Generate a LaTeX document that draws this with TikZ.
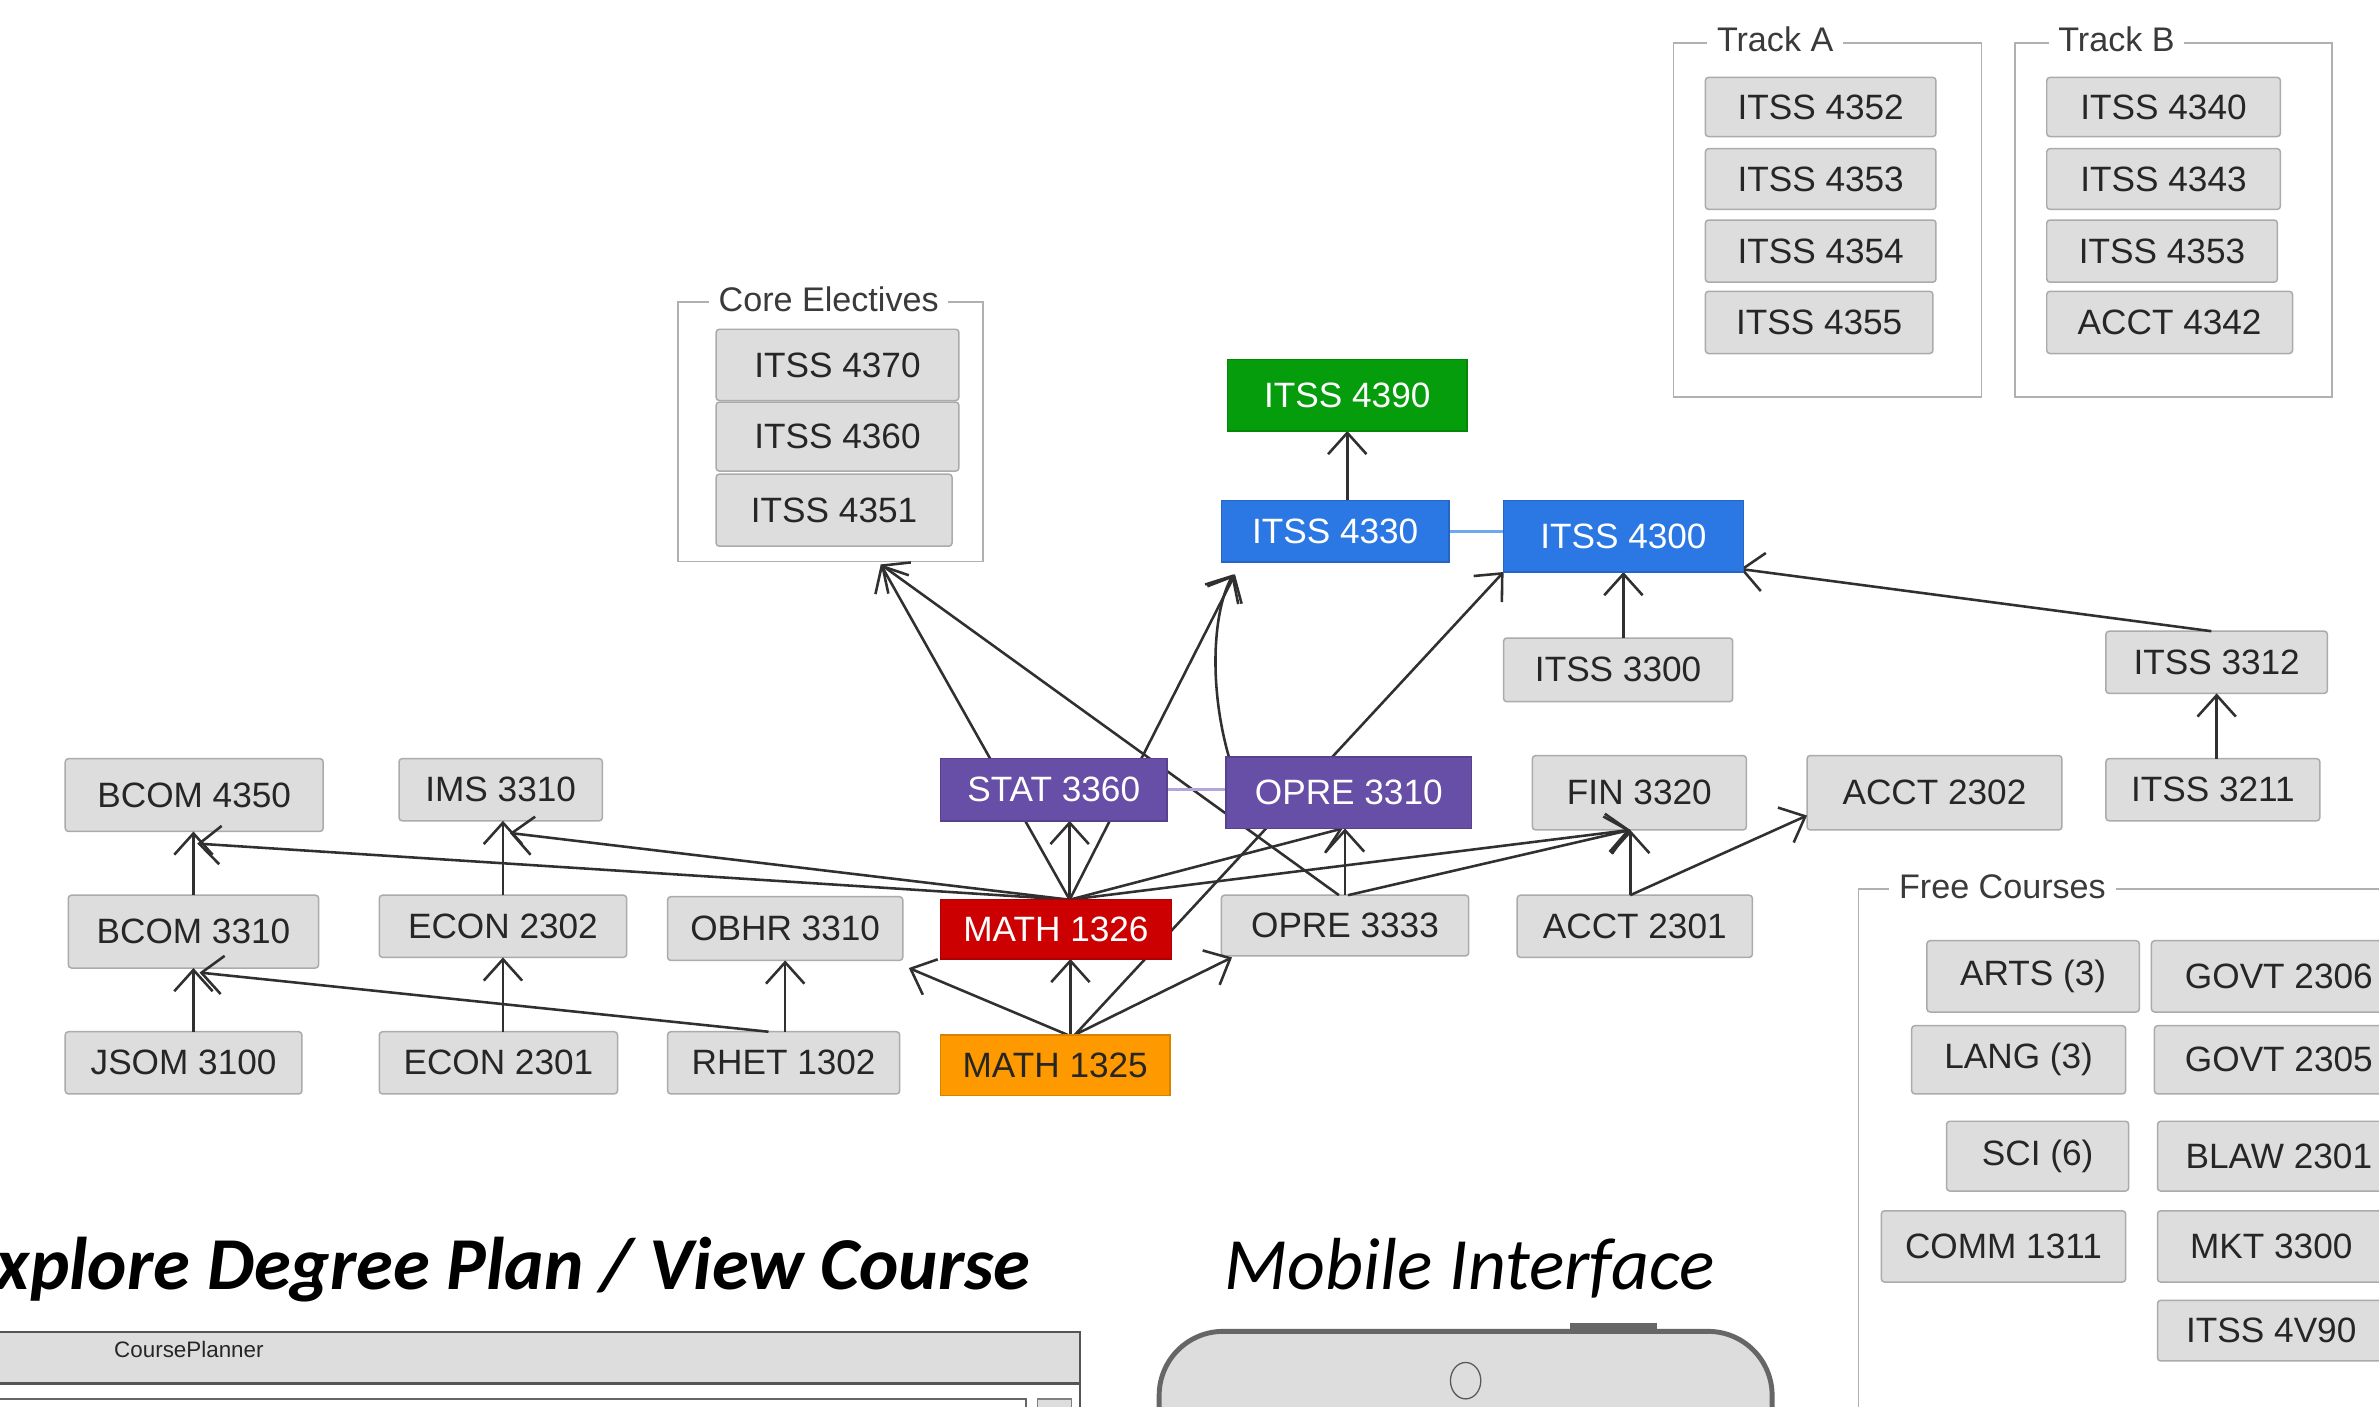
\documentclass[tikz,border=0pt]{standalone}
\usepackage{fontspec}
\setmainfont{Liberation Sans}
\newfontfamily\carlito{Carlito}
\usetikzlibrary{arrows.meta,calc}
\definecolor{boxfill}{HTML}{DDDDDD}
\definecolor{boxline}{HTML}{ABABAB}
\definecolor{txt}{HTML}{262626}
\definecolor{labelc}{HTML}{3A3A3A}
\definecolor{framec}{HTML}{B0B0B0}
\definecolor{cpurple}{HTML}{674EA7}
\definecolor{cred}{HTML}{CC0000}
\definecolor{corange}{HTML}{FF9900}
\definecolor{cblue}{HTML}{2B78E4}
\definecolor{cgreen}{HTML}{069D0C}
\definecolor{edgec}{HTML}{303030}
\definecolor{lblue}{HTML}{6FA8EC}
\definecolor{lpurple}{HTML}{B4A7D6}
\definecolor{wline}{HTML}{555555}
\definecolor{phonec}{HTML}{666666}
\pgfdeclarelayer{paper}
\pgfdeclarelayer{low}
\pgfdeclarelayer{edgelayer}
\pgfsetlayers{paper,low,edgelayer,main}
\newcommand\mkbox[7][]{\node[#1, minimum width={(#5-#3)*0.25mm}, minimum height={(#6-#4)*0.25mm}] (#2) at ({(#3+#5)/2},{(#4+#6)/2}) {#7};}
\begin{document}
\begin{tikzpicture}[x=0.25mm, y={(0mm,-0.25mm)},
  cbox/.style={draw=boxline, fill=boxfill, line width=0.7pt, rounded corners=1.5pt, text=txt, inner sep=0pt, outer sep=0pt, font=\fontsize{16.5}{19}\selectfont},
  pbox/.style={cbox, fill=cpurple, draw=cpurple!85!black, text=white, rounded corners=0pt},
  rbox/.style={cbox, fill=cred, draw=cred!85!black, text=white, rounded corners=0pt},
  obox/.style={cbox, fill=corange, draw=corange!85!black, text=txt, rounded corners=0pt},
  bbox/.style={cbox, fill=cblue, draw=cblue!85!black, text=white, rounded corners=0pt},
  gbox/.style={cbox, fill=cgreen, draw=cgreen!85!black, text=white, rounded corners=0pt},
  frame/.style={draw=framec, line width=0.8pt, inner sep=0pt, outer sep=0pt},
  flabel/.style={fill=white, text=labelc, anchor=base west, inner xsep=1.6mm, inner ysep=1pt, font=\fontsize{16}{18}\selectfont},
  arr/.style={draw=edgec, line width=1.2pt, -{Straight Barb[length=10pt,width=18pt]}},
  lb/.style={draw=lblue, line width=1.6pt},
  lp/.style={draw=lpurple, line width=1.6pt}]
\path[use as bounding box] (0,0) rectangle (1568,927);
\begin{pgfonlayer}{paper}
\fill[white] (0,0) rectangle (1568,927);
\end{pgfonlayer}
\clip (0,0) rectangle (1568,927);

% ---------- low layer: frames and grey boxes ----------
\begin{pgfonlayer}{low}
\mkbox[frame]{trackA}{1103}{28.5}{1306}{261.5}{}
\mkbox[frame]{trackB}{1328}{28.5}{1537}{261.5}{}
\mkbox[frame]{core}{447}{199}{648}{370}{}
\mkbox[frame]{free}{1225}{586}{1620}{1000}{}
\node[flabel] (lblA) at (1125,34) {Track A};
\node[flabel] (lblB) at (1350,34) {Track B};
\node[flabel] (lblCore) at (467,205.5) {Core Electives};
\node[flabel] (lblFree) at (1245,592) {Free Courses};
% Track A
\mkbox[cbox]{a1}{1124}{51}{1276}{90}{ITSS 4352}
\mkbox[cbox]{a2}{1124}{98}{1276}{138}{ITSS 4353}
\mkbox[cbox]{a3}{1124}{145}{1276}{186}{ITSS 4354}
\mkbox[cbox]{a4}{1124}{192}{1274}{233}{ITSS 4355}
% Track B
\mkbox[cbox]{b1}{1349}{51}{1503}{90}{ITSS 4340}
\mkbox[cbox]{b2}{1349}{98}{1503}{138}{ITSS 4343}
\mkbox[cbox]{b3}{1349}{145}{1501}{186}{ITSS 4353}
\mkbox[cbox]{b4}{1349}{192}{1511}{233}{ACCT 4342}
% Core electives
\mkbox[cbox]{c1}{472}{217}{632}{264}{ITSS 4370}
\mkbox[cbox]{c2}{472}{265}{632}{310.5}{ITSS 4360}
\mkbox[cbox]{c3}{472}{312.5}{627.5}{360}{ITSS 4351}
% grey courses
\mkbox[cbox]{itss3300}{991}{420.5}{1142}{462.5}{ITSS 3300}
\mkbox[cbox]{itss3312}{1388}{416}{1534}{457}{ITSS 3312}
\mkbox[cbox]{itss3211}{1388}{500}{1529}{541}{ITSS 3211}
\mkbox[cbox]{fin3320}{1010}{498}{1151}{547}{FIN 3320}
\mkbox[cbox]{acct2302}{1191}{498}{1359}{547}{ACCT 2302}
\mkbox[cbox]{bcom4350}{43}{500}{213}{548}{BCOM 4350}
\mkbox[cbox]{ims3310}{263}{500}{397}{541}{IMS 3310}
\mkbox[cbox]{bcom3310}{45}{590}{210}{638}{BCOM 3310}
\mkbox[cbox]{econ2302}{250}{590}{413}{631}{ECON 2302}
\mkbox[cbox]{obhr3310}{440}{591}{595}{633}{OBHR 3310}
\mkbox[cbox]{opre3333}{805}{590}{968}{630}{OPRE 3333}
\mkbox[cbox]{acct2301}{1000}{590}{1155}{631}{ACCT 2301}
\mkbox[cbox]{jsom3100}{43}{680}{199}{721}{JSOM 3100}
\mkbox[cbox]{econ2301}{250}{680}{407}{721}{ECON 2301}
\mkbox[cbox]{rhet1302}{440}{680}{593}{721}{RHET 1302}
% free courses
\mkbox[cbox]{arts}{1270}{620}{1410}{667}{ARTS (3)}
\mkbox[cbox]{govt2306}{1418}{620}{1586}{667}{GOVT 2306}
\mkbox[cbox]{lang}{1260}{676}{1401}{721}{LANG (3)}
\mkbox[cbox]{govt2305}{1420}{676}{1584}{721}{GOVT 2305}
\mkbox[cbox]{sci}{1283}{739}{1403}{785}{SCI (6)}
\mkbox[cbox]{blaw2301}{1422}{739}{1582}{785}{BLAW 2301}
\mkbox[cbox]{comm1311}{1240}{798}{1401}{845}{COMM 1311}
\mkbox[cbox]{mkt3300}{1422}{798}{1572}{845}{MKT 3300}
\mkbox[cbox]{itss4v90}{1422}{857}{1572}{897}{ITSS 4V90}
\end{pgfonlayer}

% ---------- main layer: coloured boxes ----------
\mkbox[gbox]{itss4390}{809}{237}{967}{284}{ITSS 4390}
\mkbox[bbox]{itss4330}{805}{330}{955}{370.5}{ITSS 4330}
\mkbox[bbox]{itss4300}{991}{330}{1149}{377}{ITSS 4300}
\mkbox[pbox]{stat3360}{620}{500}{769}{541}{STAT 3360}
\mkbox[pbox]{opre3310}{808}{499}{970}{546}{OPRE 3310}
\mkbox[rbox]{math1326}{620}{593}{772}{632}{MATH 1326}
\mkbox[obox]{math1325}{620}{682}{771}{722}{MATH 1325}

\coordinate (mt) at ($(math1326.north)+(9,0)$);
\coordinate (m5) at ($(math1325.north)+(10,0)$);
\coordinate (ft) at ($(fin3320.south)+(-6,0)$);
\coordinate (coretip) at ($(core.south)+(33,2)$);

% ---------- connectors ----------
\begin{pgfonlayer}{edgelayer}
\draw[arr] (bcom3310.north) -- (bcom3310.north |- bcom4350.south);
\draw[arr] (bcom3310.south |- jsom3100.north) -- (bcom3310.south);
\draw[arr] (econ2302.north) -- (econ2302.north |- ims3310.south);
\draw[arr] (econ2302.south |- econ2301.north) -- (econ2302.south);
\draw[arr] (obhr3310.south |- rhet1302.north) -- (obhr3310.south);
\draw[arr] ($(rhet1302.north)+(-10,0)$) -- ($(bcom3310.south)+(4,3)$);
\draw[arr] (mt) -- ($(bcom4350.south)+(2,8)$);
\draw[arr] (mt) -- ($(ims3310.south)+(6,8)$);
\draw[arr] (mt) -- (mt |- stat3360.south);
\draw[arr] (mt) -- (coretip);
\draw[arr] (mt) -- ($(itss4330.south west)+(9,8)$);
\draw[arr] (mt) -- ($(opre3310.south)+(-4,0)$);
\draw[arr] (mt) -- (ft);
\draw[arr] (m5) -- (m5 |- math1326.south);
\draw[arr] ($(m5)+(-2,0)$) -- ($(obhr3310.south east)+(4,5)$);
\draw[arr] ($(m5)+(3,0)$) -- ($(opre3333.south west)+(7,1)$);
\draw[arr] ($(m5)+(3,0)$) -- (itss4300.south west);
\draw[arr] ($(opre3333.north)+(-4,0)$) -- (coretip);
\draw[arr] (opre3333.north) -- (opre3333.north |- opre3310.south);
\draw[arr] ($(opre3333.north)+(2,0)$) -- (ft);
\draw[arr] (ft |- acct2301.north) -- (ft);
\draw[arr] (ft |- acct2301.north) -- ($(acct2302.west)+(0,15)$);
\draw[arr] ($(opre3310.north west)+(2,0)$) .. controls ($(opre3310.north west)+(-12,-49)$) and ($(itss4330.south west)+(-5,30)$) .. ($(itss4330.south west)+(8,8)$);
\draw[arr] (itss4390.south |- itss4330.north) -- (itss4390.south);
\draw[arr] (itss4300.south |- itss3300.north) -- (itss4300.south);
\draw[arr] ($(itss3312.north)+(-3.5,0)$) -- ($(itss4300.south east)+(-2,-2)$);
\draw[arr] (itss3312.south |- itss3211.north) -- (itss3312.south);
\draw[lb] (itss4330.east) -- (itss4330.east -| itss4300.west);
\draw[lp] (stat3360.east) -- (stat3360.east -| opre3310.west);
\end{pgfonlayer}

% ---------- titles ----------
\node[anchor=base west, inner sep=0pt, font=\carlito\fontsize{35}{41}\selectfont\bfseries\itshape] (title1) at (-27,850) {Explore Degree Plan / View Course};
\node[anchor=base west, inner sep=0pt, font=\carlito\fontsize{34.6}{40}\selectfont\itshape] (title2) at (807,850) {Mobile Interface};

% ---------- desktop window mock-up ----------
\fill[boxfill] (-10,878) rectangle (712,912);
\draw[wline, line width=0.9pt] (-10,878) -- (712,878) -- (712,960);
\draw[wline, line width=1.3pt] (-10,912) -- (712,912);
\draw[gray!80!black, line width=0.8pt] (-10,922) -- (676,922) -- (676,960);
\draw[gray, fill=boxfill, line width=0.6pt] (684,922) rectangle (706,950);
\node[anchor=base west, inner sep=0pt, text=txt, font=\fontsize{10.5}{12}\selectfont] (cp) at (75,895) {CoursePlanner};

% ---------- phone mock-up ----------
\draw[draw=phonec, fill=boxfill, line width=2.3pt, rounded corners=30pt] (764,877.5) rectangle (1168,1020);
\fill[phonec] (1035,872) rectangle (1092,878);
\draw[gray!70!black, line width=0.6pt] (966,910) ellipse [x radius=2.5mm, y radius=3mm];
\end{tikzpicture}
\end{document}
